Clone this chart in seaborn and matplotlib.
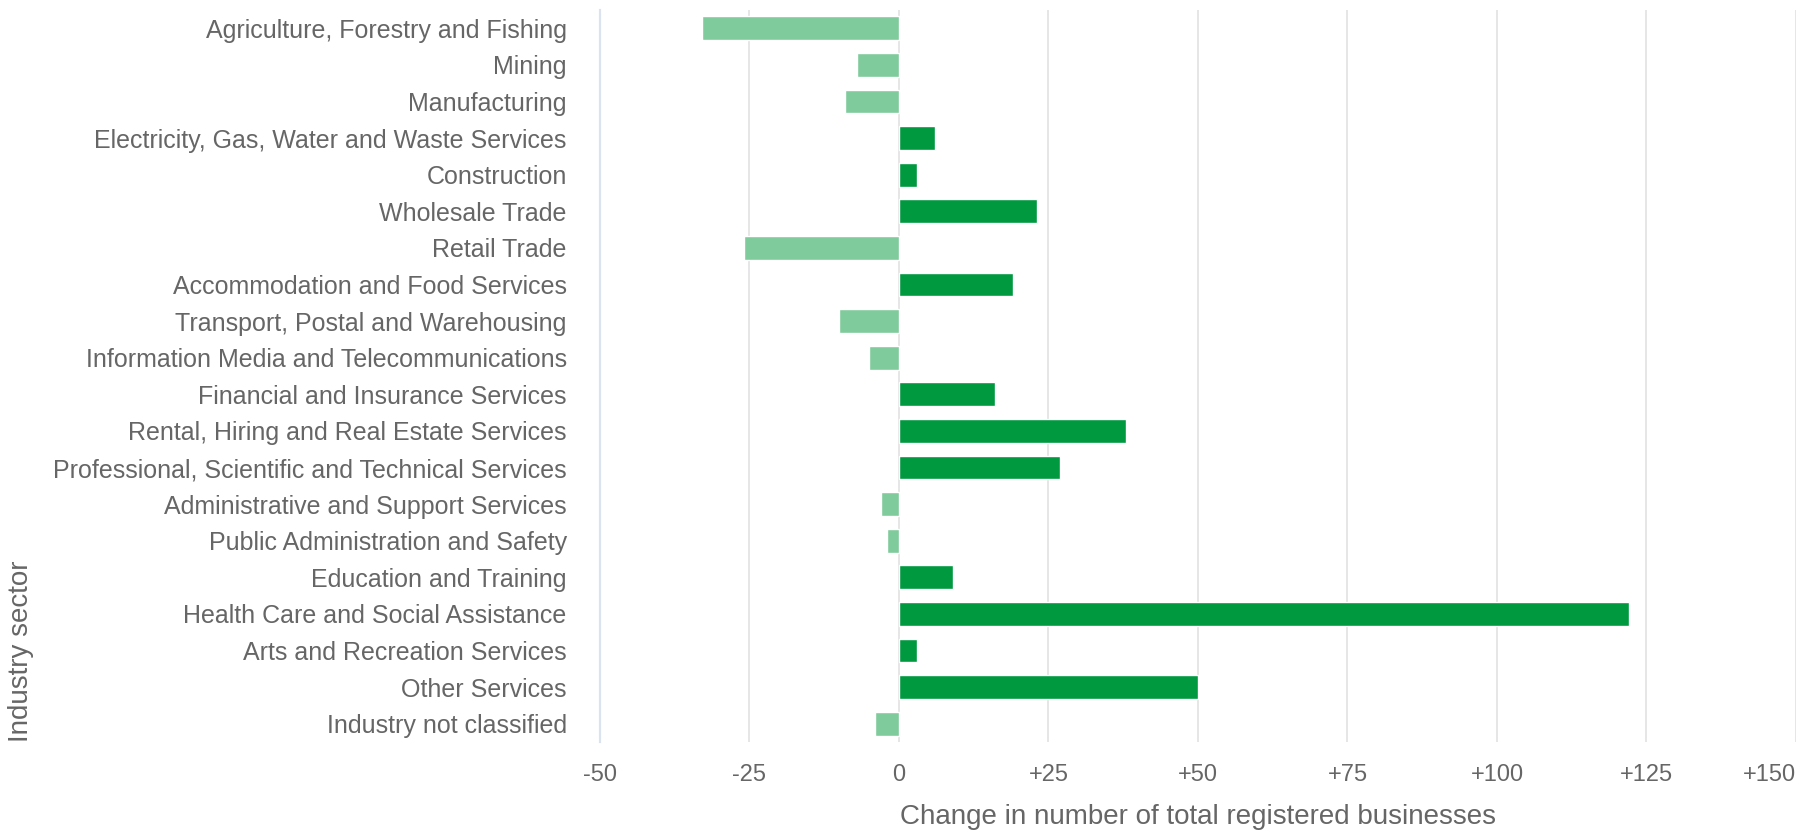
import pandas as pd
import seaborn as sns
import matplotlib.pyplot as plt
from matplotlib.ticker import FuncFormatter

# --------------------------------------------------
# Data
# --------------------------------------------------
sectors = [
    "Agriculture, Forestry and Fishing",
    "Mining",
    "Manufacturing",
    "Electricity, Gas, Water and Waste Services",
    "Construction",
    "Wholesale Trade",
    "Retail Trade",
    "Accommodation and Food Services",
    "Transport, Postal and Warehousing",
    "Information Media and Telecommunications",
    "Financial and Insurance Services",
    "Rental, Hiring and Real Estate Services",
    "Professional, Scientific and Technical Services",
    "Administrative and Support Services",
    "Public Administration and Safety",
    "Education and Training",
    "Health Care and Social Assistance",
    "Arts and Recreation Services",
    "Other Services",
    "Industry not classified",
]
change = [-33, -7, -9, 6, 3, 23, -26, 19, -10, -5,
          16, 38, 27, -3, -2, 9, 122, 3, 50, -4]
x_ticks = [-50, -25, 0, 25, 50, 75, 100, 125, 150]

df = pd.DataFrame({"sector": sectors, "change": change})
df["sign"] = ["up" if v > 0 else "down" for v in df["change"]]

POS_COLOR = "#00993f"
NEG_COLOR = "#7fcb9b"
TEXT_COLOR = "#666666"

sns.set_theme(style="white")
plt.rcParams["font.family"] = ["Liberation Sans", "DejaVu Sans"]

# --------------------------------------------------
# Plot
# --------------------------------------------------
fig = plt.figure(figsize=(18.11, 8.33), dpi=100)
ax = fig.add_axes([0.3313, 0.1092, 0.6604, 0.8788])

sns.barplot(
    data=df, x="change", y="sector", hue="sign",
    palette={"up": POS_COLOR, "down": NEG_COLOR},
    orient="h", dodge=False, width=0.65, legend=False,
    saturation=1, ax=ax,
)

ax.set_xlim(x_ticks[0], x_ticks[-1])
ax.set_ylim(len(sectors) - 0.5, -0.5)
ax.set_xticks(x_ticks)
ax.xaxis.set_major_formatter(
    FuncFormatter(lambda v, _: f"+{v:.0f}" if v > 0 else f"{v:.0f}")
)

ax.grid(axis="x", color="#e4e4e4", linewidth=1.3)
ax.set_axisbelow(True)
for side in ["top", "right", "bottom"]:
    ax.spines[side].set_visible(False)
ax.spines["left"].set_color("#dbe4ee")
ax.spines["left"].set_linewidth(1.6)

ax.tick_params(axis="y", length=0, pad=24, labelsize=18, labelcolor=TEXT_COLOR)
ax.tick_params(axis="x", length=0, pad=15.5, labelsize=17, labelcolor=TEXT_COLOR)

# keep the last tick label inside the figure
ax.xaxis.get_major_ticks()[-1].label1.set_horizontalalignment("right")

ax.set_xlabel("Change in number of total registered businesses",
              fontsize=20, color=TEXT_COLOR, labelpad=13)
ax.set_ylabel("Industry sector", fontsize=20, color=TEXT_COLOR, loc="bottom")
ax.yaxis.set_label_coords(-0.473, 0.0)

plt.savefig("out.png", dpi=100)
plt.close()
